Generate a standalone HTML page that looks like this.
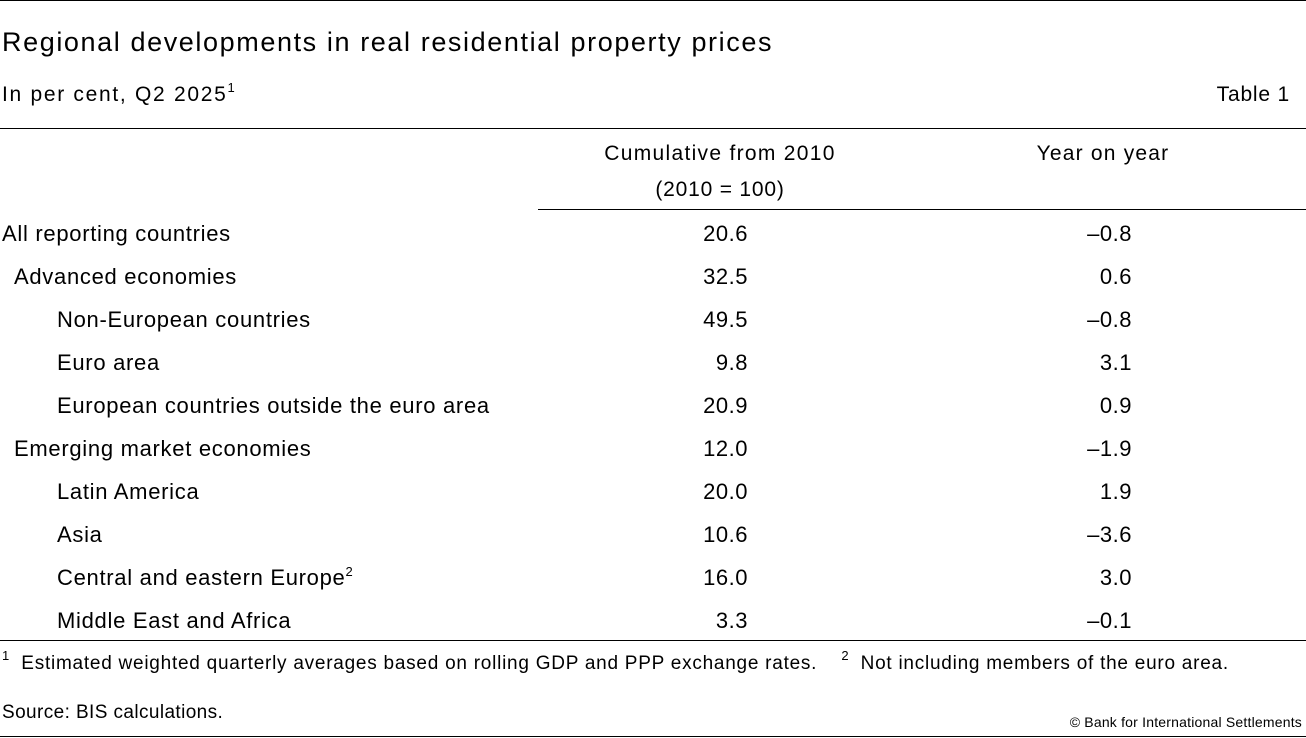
<!DOCTYPE html>
<html><head><meta charset="utf-8"><style>
body{margin:0;width:1306px;height:738px;background:#fff;position:relative;font-family:"Liberation Sans","DejaVu Sans",sans-serif;color:#000;overflow:hidden}
.a{position:absolute;white-space:nowrap;line-height:1}
.hr{position:absolute;height:1px;background:#000}
.r{font-size:22px;letter-spacing:0.7px}
.v1{position:absolute;right:558px;font-size:22px;line-height:1;letter-spacing:0.5px}
.v2{position:absolute;right:174px;font-size:22px;line-height:1;letter-spacing:0.5px}
sup{font-size:13px;vertical-align:9px;line-height:0;letter-spacing:0}
</style></head><body>
<div class="hr" style="left:0;top:0;width:1306px"></div>
<div class="a" style="left:2px;top:29px;font-size:27px;letter-spacing:1.6px">Regional developments in real residential property prices</div>
<div class="a" style="left:2px;top:84px;font-size:21px;letter-spacing:1.7px">In per cent, Q2 2025<sup>1</sup></div>
<div class="a" style="right:16px;top:84px;font-size:21px;letter-spacing:0.8px">Table 1</div>
<div class="hr" style="left:0;top:128px;width:1306px"></div>
<div class="a" style="left:540px;width:360px;text-align:center;top:143px;font-size:21px;letter-spacing:1.3px">Cumulative from 2010</div>
<div class="a" style="left:540px;width:360px;text-align:center;top:179px;font-size:21px;letter-spacing:0.8px">(2010 = 100)</div>
<div class="a" style="left:923px;width:360px;text-align:center;top:143px;font-size:21px;letter-spacing:1.2px">Year on year</div>
<div class="hr" style="left:538px;top:209px;width:768px"></div>
<div id="rows"></div>
<div class="hr" style="left:0;top:640px;width:1306px"></div>
<div class="a" style="left:2px;top:654px;font-size:19px;letter-spacing:0.75px"><sup>1</sup>&nbsp; Estimated weighted quarterly averages based on rolling GDP and PPP exchange rates. &nbsp;&nbsp; <sup>2</sup>&nbsp; Not including members of the euro area.</div>
<div class="a" style="left:2px;top:703px;font-size:19px;letter-spacing:0.4px">Source: BIS calculations.</div>
<div class="a" style="right:4px;top:715px;font-size:14px;letter-spacing:0.2px">© Bank for International Settlements</div>
<div class="hr" style="left:0;top:736px;width:1306px"></div>
<script>
const labels=["All reporting countries","Advanced economies","Non-European countries","Euro area","European countries outside the euro area","Emerging market economies","Latin America","Asia","Central and eastern Europe<sup>2</sup>","Middle East and Africa"];
const indents=[0,1,2,2,2,1,2,2,2,2];
const cumulative=["20.6","32.5","49.5","9.8","20.9","12.0","20.0","10.6","16.0","3.3"];
const yoy=["–0.8","0.6","–0.8","3.1","0.9","–1.9","1.9","–3.6","3.0","–0.1"];
const c=document.getElementById('rows');
labels.forEach((l,i)=>{
  const y=223+i*43;
  const d=document.createElement('div');
  d.className='a r';
  
  
  d.style.left=[2,14,57][indents[i]]+'px';d.style.top=y+'px';d.innerHTML=l;c.appendChild(d);
  const v=document.createElement('div');
  v.className='v1';
  
  
  v.style.top=y+'px';v.textContent=cumulative[i];c.appendChild(v);
  const w=document.createElement('div');
  w.className='v2';
  
  
  w.style.top=y+'px';w.textContent=yoy[i];c.appendChild(w);
});
</script>
</body></html>
